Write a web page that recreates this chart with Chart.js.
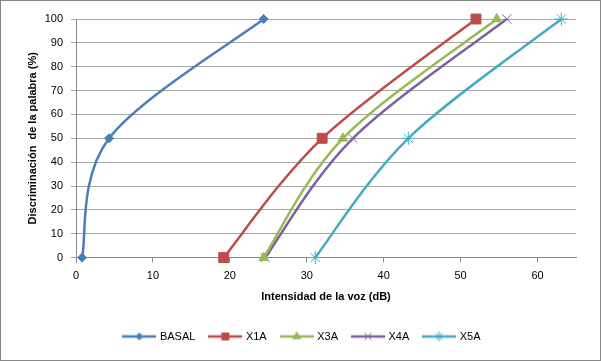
<!DOCTYPE html>
<html><head><meta charset="utf-8">
<script src="https://cdn.jsdelivr.net/npm/chart.js@4"></script>
<style>
html,body{margin:0;padding:0;background:#fff;}
#wrap{position:absolute;left:0;top:0;width:599px;height:359px;border:1px solid #868686;}
canvas{display:block;}
</style></head><body>
<div id="wrap"><canvas id="c" width="599" height="359"></canvas></div>
<script>
const seriesNames = ["BASAL","X1A","X3A","X4A","X5A"];
const yValues = [0, 50, 100];
const basalX = [0.8, 4.3, 24.4];
const x1aX = [19.2, 32.0, 52.0];
const x3aX = [24.4, 34.7, 54.7];
const x4aX = [24.6, 36.0, 56.0];
const x5aX = [31.1, 43.2, 63.1];
const xTicks = [0,10,20,30,40,50,60];
const yTicks = [0,10,20,30,40,50,60,70,80,90,100];

const colors = ["#4A7EBB","#BE4B48","#98B954","#7D60A0","#46AAC5"];
const styles = ["rectRot","rect","triangle","crossRot","star"];
const radii = [4.5,7,5.5,6.5,6.5];
const legendRadii = [3.5,5,4.5,5,5];
const xs = [basalX,x1aX,x3aX,x4aX,x5aX];
const FONT = '"Liberation Sans", Arial, sans-serif';

function legendIcon(i){
  const cv=document.createElement('canvas');
  cv.width=34; cv.height=12;
  const g=cv.getContext('2d');
  g.strokeStyle=colors[i]; g.lineWidth=2.5;
  g.beginPath(); g.moveTo(0,6); g.lineTo(34,6); g.stroke();
  g.fillStyle=colors[i]; g.strokeStyle=colors[i]; g.lineWidth=1;
  Chart.helpers.drawPoint(g,{pointStyle:styles[i],rotation:0,borderWidth:1,radius:legendRadii[i]},17,6);
  return cv;
}

// Excel-like smoothing (Catmull-Rom, tangent = (next - prev)/6)
const excelSmooth = {
  id:'excelSmooth',
  beforeDatasetDraw(chart, args){
    const meta = args.meta;
    if (!meta.dataset) return;
    meta.dataset.updateControlPoints(chart.chartArea, 'x');
    const pts = meta.data, n = pts.length;
    for (let i=0;i<n;i++){
      const p = pts[i], a = pts[Math.max(i-1,0)], b = pts[Math.min(i+1,n-1)];
      const tx = (b.x - a.x)/6, ty = (b.y - a.y)/6;
      p.cp1x = p.x - tx; p.cp1y = p.y - ty;
      p.cp2x = p.x + tx; p.cp2y = p.y + ty;
    }
  }
};
const legendShift = {
  id:'legendShift',
  afterLayout(chart){ const l = chart.legend; if(l){ l.left += 10; l.right += 10; } }
};

const datasets = seriesNames.map((n,i)=>({
  label:n,
  data: xs[i].map((x,k)=>({x:x,y:yValues[k]})),
  borderColor:colors[i],
  backgroundColor:colors[i],
  pointStyle:styles[i],
  pointRadius:radii[i],
  pointBorderWidth:1,
  borderWidth:2.5,
  showLine:true,
  tension:0.4,
  clip:false
}));

const icons = seriesNames.map((n,i)=>legendIcon(i));

new Chart(document.getElementById('c'),{
  type:'scatter',
  data:{datasets},
  plugins:[excelSmooth, legendShift],
  options:{
    responsive:false,
    animation:false,
    layout:{padding:{left:8,right:24,top:18,bottom:8}},
    plugins:{
      tooltip:{enabled:false},
      legend:{
        position:'bottom',
        labels:{
          usePointStyle:true,
          pointStyleWidth:30,
          font:{family:FONT,size:11},
          color:'#000',
          padding:15,
          generateLabels:(chart)=>seriesNames.map((n,i)=>({
            text:n, pointStyle:icons[i], fillStyle:colors[i], strokeStyle:colors[i],
            lineWidth:0, hidden:false, datasetIndex:i
          }))
        }
      }
    },
    scales:{
      x:{
        type:'linear', min:0, max:65,
        afterBuildTicks:(s)=>{s.ticks=xTicks.map(v=>({value:v}));},
        grid:{display:true,drawOnChartArea:false,drawTicks:true,tickLength:5,color:'#888'},
        border:{color:'#888'},
        ticks:{color:'#000',font:{family:FONT,size:11},padding:7,maxRotation:0},
        title:{display:true,text:'Intensidad de la voz (dB)',color:'#000',font:{family:FONT,size:11,weight:'bold'},padding:{top:1,bottom:12}}
      },
      y:{
        type:'linear', min:0, max:100,
        afterBuildTicks:(s)=>{s.ticks=yTicks.map(v=>({value:v}));},
        grid:{color:'#a6a6a6',tickLength:5,lineWidth:1},
        border:{color:'#888'},
        ticks:{color:'#000',font:{family:FONT,size:11},padding:8},
        title:{display:true,text:'Discriminación  de la palabra (%)',color:'#000',font:{family:FONT,size:11,weight:'bold'},padding:{top:17,bottom:6}},
        afterFit:(s)=>{s.width=67;}
      }
    }
  }
});
</script>
</body></html>
